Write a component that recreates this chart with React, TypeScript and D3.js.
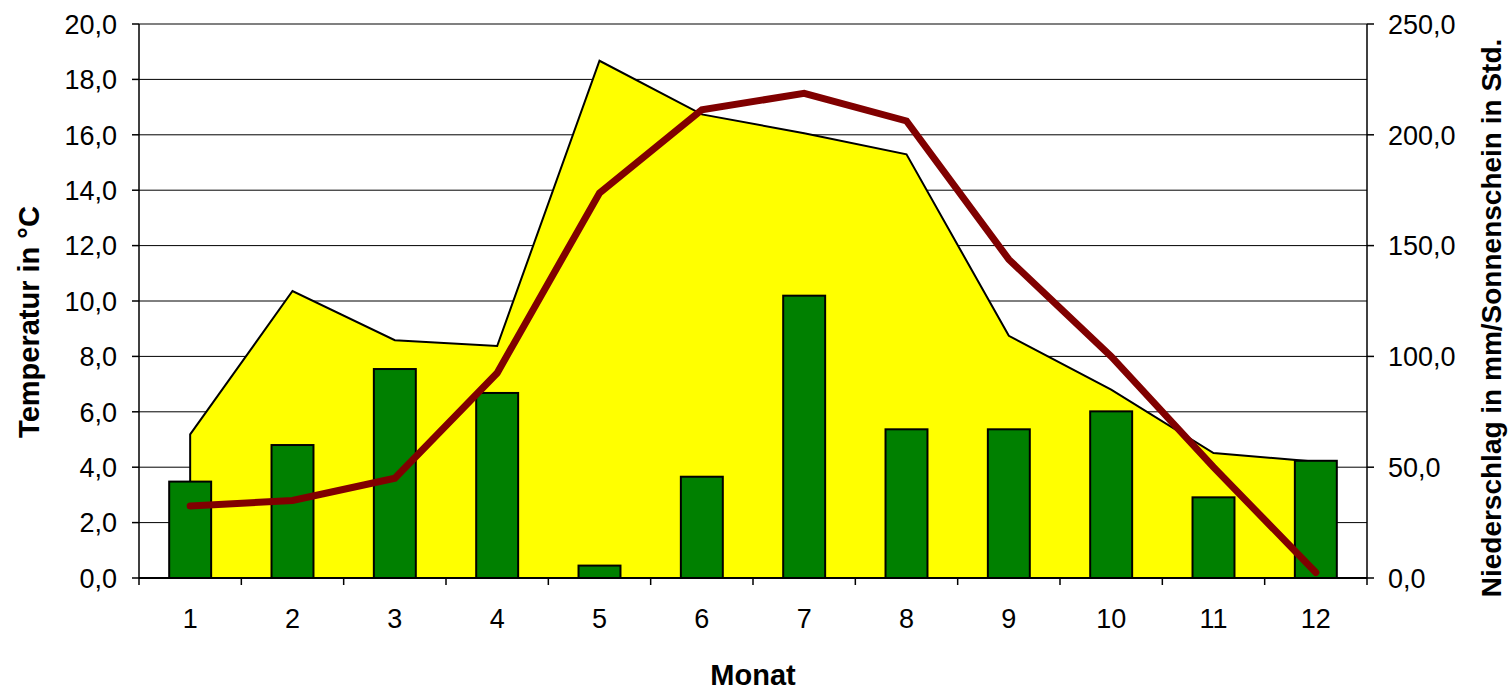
import React, { useEffect } from 'react';
import * as d3 from 'd3';

const months = ['1', '2', '3', '4', '5', '6', '7', '8', '9', '10', '11', '12'];
// Sonnenschein in Std. (right axis, area)
const sunshine = [64.8, 129.5, 107.3, 104.7, 233.4, 209.2, 200.7, 191.2, 109.3, 85.0, 56.4, 52.5];
// Niederschlag in mm (right axis, bars)
const precipitation = [43.5, 60.0, 94.3, 83.5, 5.6, 45.7, 127.4, 67.1, 67.1, 75.2, 36.4, 52.9];
// Temperatur in °C (left axis, line)
const temperature = [2.6, 2.8, 3.6, 7.4, 13.9, 16.9, 17.5, 16.5, 11.5, 8.0, 4.0, 0.2];

const leftTicks = [0, 2, 4, 6, 8, 10, 12, 14, 16, 18, 20];
const rightTicks = [0, 50, 100, 150, 200, 250];

const W = 1510;
const H = 690;
const margin = { top: 24, right: 143, bottom: 112, left: 139 };
const FONT = 'Liberation Sans, Arial, sans-serif';

export default function App() {
  useEffect(() => {
    document.body.style.margin = '0';
  }, []);

  const innerW = W - margin.left - margin.right;
  const innerH = H - margin.top - margin.bottom;

  const x = d3.scaleBand<string>().domain(months).range([0, innerW]).padding(0);
  const cx = (m: string) => (x(m) ?? 0) + x.bandwidth() / 2;
  const yLeft = d3.scaleLinear().domain([0, 20]).range([innerH, 0]);
  const yRight = d3.scaleLinear().domain([0, 250]).range([innerH, 0]);

  const areaPoints: [number, number][] = months.map((m, i) => [cx(m), yRight(sunshine[i])]);
  const outline: [number, number][] = [
    [cx(months[0]), yRight(0)],
    ...areaPoints,
    [cx(months[months.length - 1]), yRight(0)],
  ];
  const areaPath = d3.line()(outline) + 'Z';

  const tempLine = d3
    .line<number>()
    .x((_, i) => cx(months[i]))
    .y((d) => yLeft(d))(temperature);

  const barW = x.bandwidth() * 0.41;
  const fmt = (t: number) => d3.format('.1f')(t).replace('.', ',');

  return (
    <svg width={W} height={H} style={{ display: 'block', fontFamily: FONT }}>
      <rect width={W} height={H} fill="#fff" />
      <g transform={`translate(${margin.left},${margin.top})`}>
        {/* grid lines */}
        {leftTicks.slice(1, -1).map((t) => (
          <line key={t} x1={0} x2={innerW} y1={yLeft(t)} y2={yLeft(t)} stroke="#000" strokeWidth={1} />
        ))}
        <line x1={0} x2={innerW} y1={0} y2={0} stroke="#808080" strokeWidth={2} />

        {/* sunshine area */}
        <path d={areaPath} fill="#ffff00" stroke="#000" strokeWidth={2} strokeLinejoin="miter" />

        {/* precipitation bars */}
        {months.map((m, i) => (
          <rect
            key={m}
            x={cx(m) - barW / 2}
            y={yRight(precipitation[i])}
            width={barW}
            height={innerH - yRight(precipitation[i])}
            fill="#008000"
            stroke="#000"
            strokeWidth={2}
          />
        ))}

        {/* temperature line */}
        <path d={tempLine ?? ''} fill="none" stroke="#800000" strokeWidth={7} strokeLinecap="round" strokeLinejoin="miter" />

        {/* left axis */}
        <line x1={0} x2={0} y1={0} y2={innerH} stroke="#000" strokeWidth={1.5} />
        {leftTicks.map((t) => (
          <g key={t} transform={`translate(0,${yLeft(t)})`}>
            <line x1={-7} x2={0} stroke="#000" strokeWidth={1.5} />
            <text x={-22} dy="0.36em" textAnchor="end" fontSize={27} fill="#000">
              {fmt(t)}
            </text>
          </g>
        ))}

        {/* right axis */}
        <line x1={innerW} x2={innerW} y1={0} y2={innerH} stroke="#000" strokeWidth={1.5} />
        {rightTicks.map((t) => (
          <g key={t} transform={`translate(${innerW},${yRight(t)})`}>
            <line x1={0} x2={7} stroke="#000" strokeWidth={1.5} />
            <text x={21} dy="0.36em" textAnchor="start" fontSize={27} fill="#000">
              {fmt(t)}
            </text>
          </g>
        ))}

        {/* bottom axis */}
        <line x1={0} x2={innerW} y1={innerH} y2={innerH} stroke="#000" strokeWidth={2} />
        {months.map((m) => (
          <line key={'t' + m} x1={x(m) ?? 0} x2={x(m) ?? 0} y1={innerH} y2={innerH + 7} stroke="#000" strokeWidth={1.5} />
        ))}
        <line x1={innerW} x2={innerW} y1={innerH} y2={innerH + 7} stroke="#000" strokeWidth={1.5} />
        {months.map((m) => (
          <text key={'l' + m} x={cx(m)} y={innerH + 50} textAnchor="middle" fontSize={27} fill="#000">
            {m}
          </text>
        ))}

        <text x={innerW / 2} y={innerH + 107} textAnchor="middle" fontSize={29} fontWeight="bold" fill="#000">
          Monat
        </text>
      </g>

      <text
        transform={`translate(39,322) rotate(-90)`}
        textAnchor="middle"
        fontSize={29}
        fontWeight="bold"
        fill="#000"
      >
        Temperatur in °C
      </text>
      <text
        transform={`translate(1501,318) rotate(-90)`}
        textAnchor="middle"
        fontSize={28}
        fontWeight="bold"
        fill="#000"
      >
        Niederschlag in mm/Sonnenschein in Std.
      </text>
    </svg>
  );
}
